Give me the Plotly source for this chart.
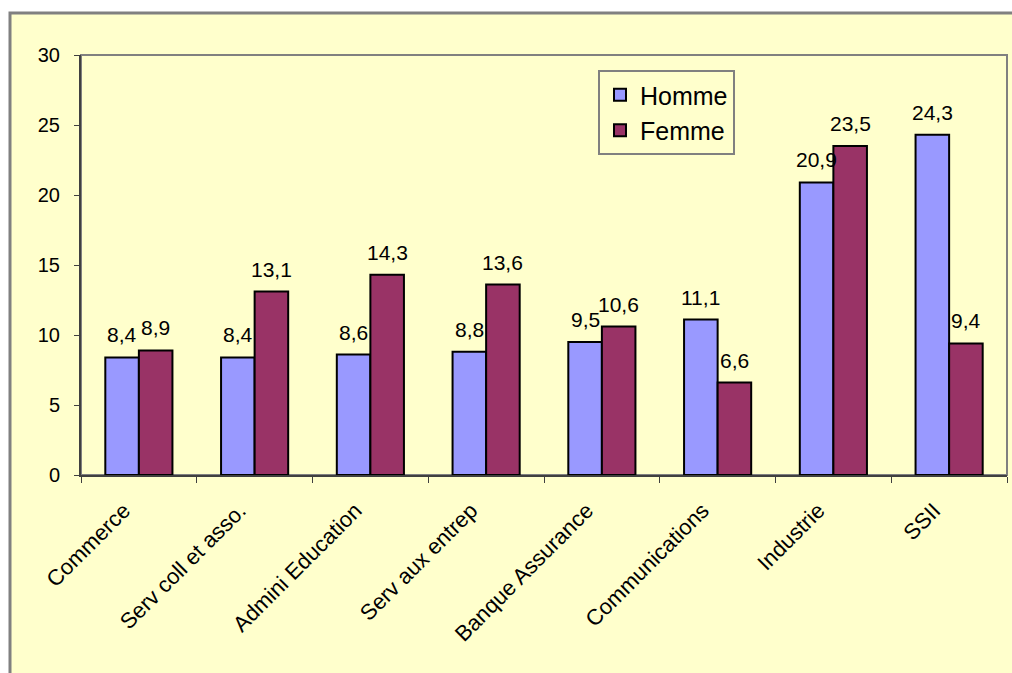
import plotly.graph_objects as go

categories = ["Commerce", "Serv coll et asso.", "Admini Education", "Serv aux entrep",
              "Banque Assurance", "Communications", "Industrie", "SSII"]
homme = [8.4, 8.4, 8.6, 8.8, 9.5, 11.1, 20.9, 24.3]
femme = [8.9, 13.1, 14.3, 13.6, 10.6, 6.6, 23.5, 9.4]
y_ticks = [0, 5, 10, 15, 20, 25, 30]


def fr(v):
    return f"{v:.1f}".replace(".", ",")


FONT = "Liberation Sans, Arial, sans-serif"
BG = "#FFFFCC"

fig = go.Figure()
fig.add_bar(name="Homme", x=categories, y=homme,
            marker=dict(color="#9999FF", line=dict(color="black", width=2)))
fig.add_bar(name="Femme", x=categories, y=femme,
            marker=dict(color="#993366", line=dict(color="black", width=2)))

L, R, T, B = 81, 5, 55, 198
W, H = 1012, 673
pw, ph = W - L - R, H - T - B
bargap = 0.42
half_bar = pw / len(categories) * (1 - bargap) / 4  # centre offset of each bar

for series, sign in ((homme, -1), (femme, 1)):
    for cat, v in zip(categories, series):
        fig.add_annotation(x=cat, y=v, text=fr(v), showarrow=False,
                           xshift=sign * half_bar, yanchor="bottom", yshift=9,
                           font=dict(family=FONT, size=21, color="black"))

fig.add_shape(type="rect", xref="paper", yref="paper", layer="below",
              x0=(10 - L) / pw, x1=(W + 20 - L) / pw,
              y0=-(H + 20 - T - ph) / ph, y1=1 + (T - 13) / ph,
              fillcolor=BG, line=dict(color="#808080", width=3))
fig.add_shape(type="rect", xref="paper", yref="paper", layer="below",
              x0=0, x1=1, y0=0, y1=1, fillcolor=BG,
              line=dict(color="#808080", width=2))

fig.update_layout(
    width=W, height=H,
    margin=dict(l=L, r=R, t=T, b=B),
    paper_bgcolor="white", plot_bgcolor=BG,
    barmode="group", bargap=bargap, bargroupgap=0,
    font=dict(family=FONT, size=20, color="black"),
    showlegend=True,
    legend=dict(x=(598 - L) / pw, y=1 - (70 - T) / ph, xanchor="left", yanchor="top",
                bgcolor=BG, bordercolor="#808080", borderwidth=2,
                font=dict(family=FONT, size=25, color="black"),
                itemsizing="constant", tracegroupgap=2),
    xaxis=dict(tickangle=-45, tickfont=dict(family=FONT, size=22, color="black"),
               showline=True, linecolor="#404040", linewidth=2, ticks="outside",
               ticklen=6, tickcolor="#404040", tickson="boundaries", showgrid=False,
               ticklabelstandoff=12, ticklabelshift=-15),
    yaxis=dict(range=[0, 30], tickvals=y_ticks, ticks="outside", ticklen=5,
               tickcolor="#404040", showline=True, linecolor="#404040", linewidth=2,
               showgrid=False, zeroline=False,
               tickfont=dict(family=FONT, size=20, color="black"), ticklabelstandoff=10),
)

fig.write_html("out.html", config={"displayModeBar": False},
               post_script="document.body.style.margin='0';document.body.style.overflow='hidden';")
